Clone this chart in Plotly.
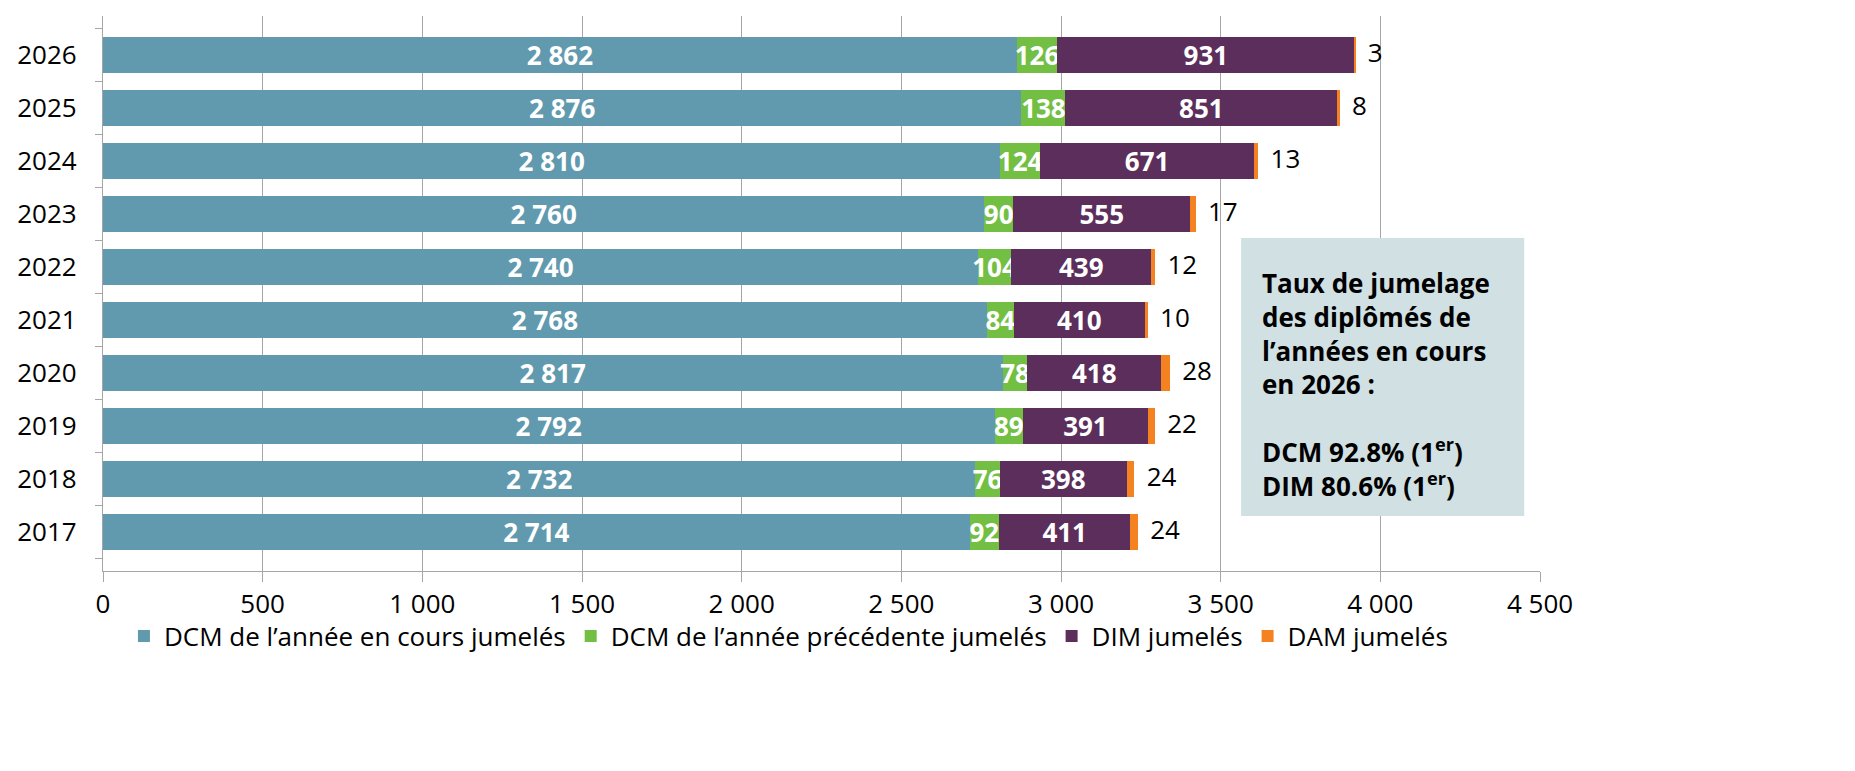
import plotly.graph_objects as go

years = ["2017", "2018", "2019", "2020", "2021", "2022", "2023", "2024", "2025", "2026"]
dcm_courant = [2714, 2732, 2792, 2817, 2768, 2740, 2760, 2810, 2876, 2862]
dcm_precedent = [92, 76, 89, 78, 84, 104, 90, 124, 138, 126]
dim = [411, 398, 391, 418, 410, 439, 555, 671, 851, 931]
dam = [24, 24, 22, 28, 10, 12, 17, 13, 8, 3]

series_names = ["DCM de l’année en cours jumelés", "DCM de l’année précédente jumelés",
                "DIM jumelés", "DAM jumelés"]
colors = ["#619aae", "#72bf44", "#5b2e5c", "#f58220"]

tick_vals = [0, 500, 1000, 1500, 2000, 2500, 3000, 3500, 4000, 4500]
tick_text = ["0", "500", "1 000", "1 500", "2 000", "2 500", "3 000", "3 500", "4 000", "4 500"]

FONT = "Open Sans"


def fmt(v):
    return f"{v:,}".replace(",", " ")


fig = go.Figure()
for name, vals, col in zip(series_names[:3], [dcm_courant, dcm_precedent, dim], colors[:3]):
    fig.add_trace(go.Bar(
        y=years, x=vals, name=name, orientation="h", marker=dict(color=col, line=dict(width=0)),
        text=[fmt(v) for v in vals], textposition="inside", insidetextanchor="middle",
        textangle=0, constraintext="none",
        textfont=dict(family=FONT, size=26, color="white", weight="bold"),
    ))
fig.add_trace(go.Bar(
    y=years, x=dam, name=series_names[3], orientation="h",
    marker=dict(color=colors[3], line=dict(width=0)),
))

totals = [a + b + c + d for a, b, c, d in zip(dcm_courant, dcm_precedent, dim, dam)]
fig.add_trace(go.Scatter(
    y=years, x=totals, mode="markers+text", text=[str(v) for v in dam],
    textposition="middle right", marker=dict(size=18, opacity=0),
    textfont=dict(family=FONT, size=26, color="black"),
    showlegend=False, hoverinfo="skip", cliponaxis=False,
))

fig.add_shape(type="rect", xref="paper", yref="paper", x0=0.792, x1=0.989, y0=0.099, y1=0.6,
              fillcolor="#d0e0e3", line=dict(width=0), layer="above")
fig.add_annotation(
    xref="paper", yref="paper", x=0.805, y=0.555, xanchor="left", yanchor="top",
    align="left", showarrow=False,
    text=("Taux de jumelage<br>des diplômés de<br>l’années en cours<br>en 2026 :<br><br>"
          "DCM 92.8% (1<sup>er</sup>)<br>DIM 80.6% (1<sup>er</sup>)"),
    font=dict(family=FONT, size=26, color="black", weight="bold"),
)

fig.update_layout(
    width=1855, height=771, barmode="stack", bargap=0.33,
    paper_bgcolor="white", plot_bgcolor="white",
    margin=dict(l=95, r=323, t=8, b=208, autoexpand=False),
    font=dict(family=FONT, size=26, color="black"),
    legend=dict(orientation="h", x=0.477, xanchor="center", y=-0.075, yanchor="top",
                font=dict(family=FONT, size=26, color="black"), traceorder="normal",
                itemwidth=30),
    showlegend=True,
)
fig.update_xaxes(range=[0, 4500], tickvals=tick_vals, ticktext=tick_text,
                 showgrid=True, gridcolor="#a6a6a6", gridwidth=1.3,
                 showline=True, linecolor="#a6a6a6", linewidth=1.3,
                 ticks="outside", ticklen=10, tickcolor="#a6a6a6",
                 zeroline=False, tickfont=dict(size=26), automargin=False)
fig.update_yaxes(type="category", showgrid=False, showline=True, linecolor="#a6a6a6",
                 linewidth=1.3, ticks="outside", tickson="boundaries", ticklen=7,
                 tickcolor="#a6a6a6", tickfont=dict(size=26), ticklabelstandoff=20,
                 automargin=False)

fig.write_html("out.html", config={"displayModeBar": False})
